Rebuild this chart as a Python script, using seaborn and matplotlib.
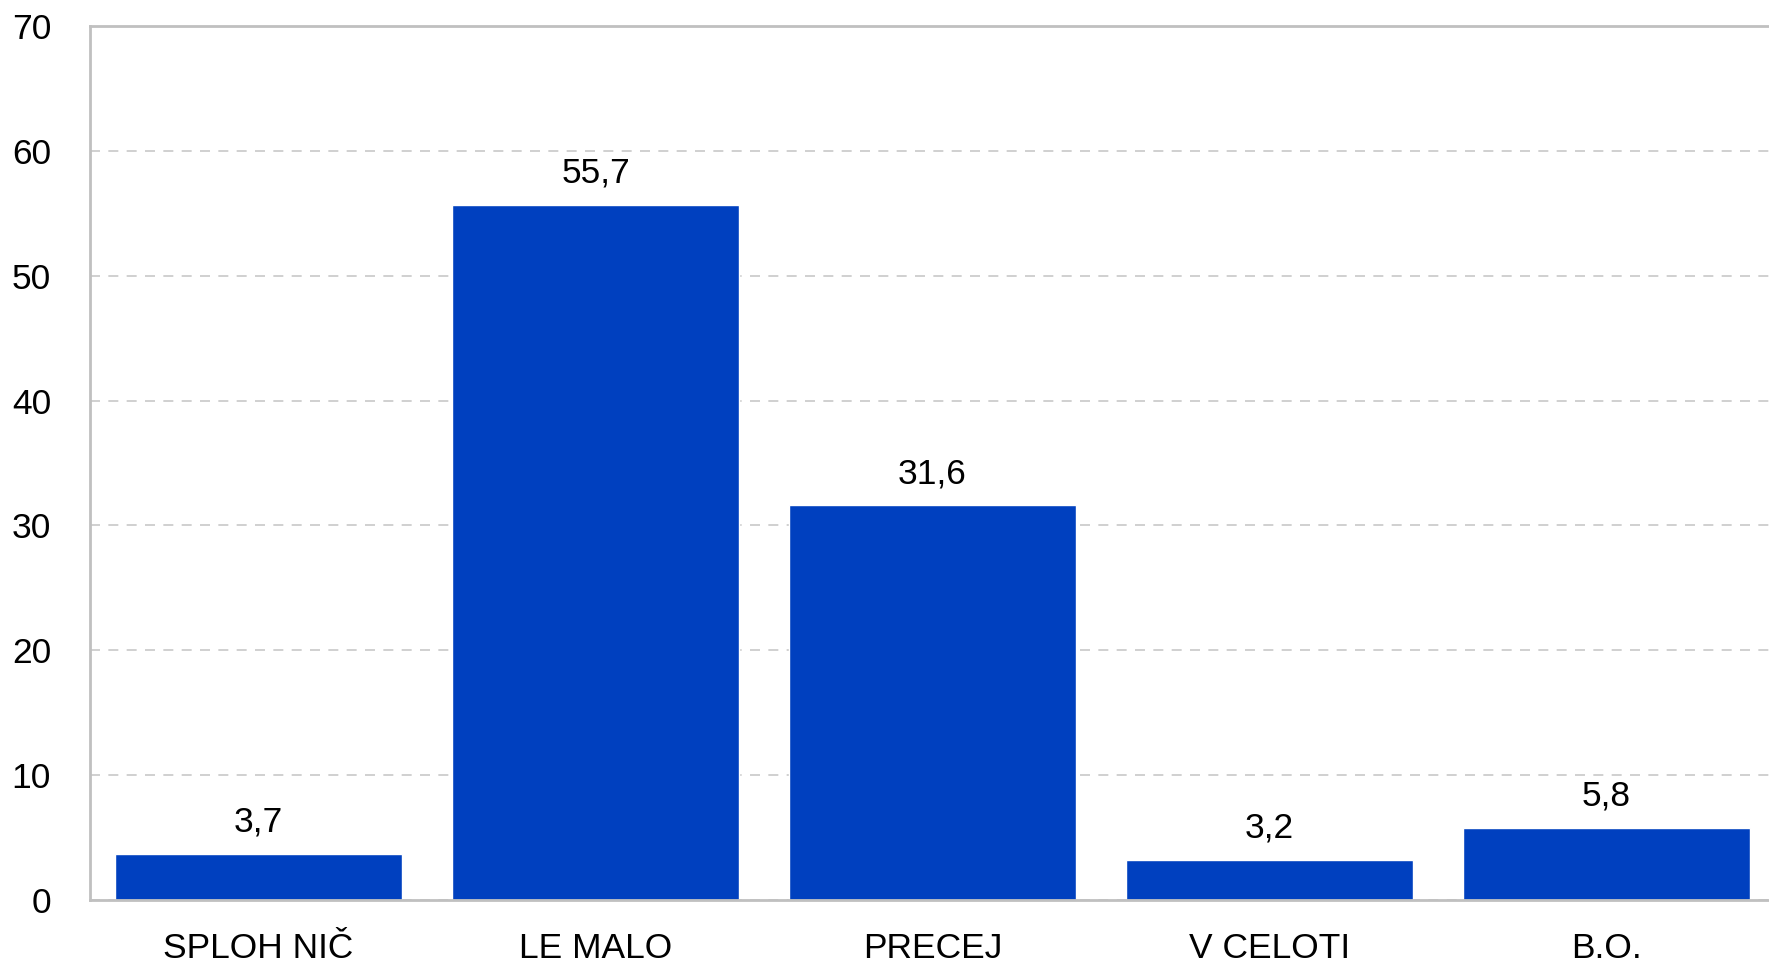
import matplotlib
matplotlib.use("Agg")
import matplotlib.pyplot as plt
import seaborn as sns
import pandas as pd

categories = ["SPLOH NIČ", "LE MALO", "PRECEJ", "V CELOTI", "B.O."]
values = [3.7, 55.7, 31.6, 3.2, 5.8]
yticks = [0, 10, 20, 30, 40, 50, 60, 70]

sns.set_theme(style="white")
plt.rcParams['font.family'] = ['Liberation Sans', 'DejaVu Sans']

df = pd.DataFrame({"cat": categories, "val": values})

fig = plt.figure(figsize=(17.69, 9.65), dpi=100)
ax = fig.add_axes([90/1769, 1-900/965, (1775-90)/1769, (900-26)/965])

sns.barplot(data=df, x="cat", y="val", color="#0040BF", saturation=1, width=0.85, ax=ax)

FS = 25.5
ax.set_ylim(0, 70)
ax.set_xlim(-0.5, 4.5)
ax.set_yticks(yticks)
ax.set_yticklabels([str(t) for t in yticks], fontsize=FS, color="black")
ax.tick_params(axis="x", labelsize=FS, colors="black", pad=23, length=0)
ax.tick_params(axis="y", pad=28, length=0)
ax.set_xlabel("")
ax.set_ylabel("")

ax.yaxis.grid(True, linestyle=(0, (6, 5)), color="#c8c8c8", linewidth=1.2)
ax.set_axisbelow(True)
for s in ["left", "top", "bottom"]:
    ax.spines[s].set_color("#c0c0c0")
    ax.spines[s].set_linewidth(2)
ax.spines["right"].set_visible(False)

for cont in ax.containers:
    ax.bar_label(cont, labels=[f"{v:.1f}".replace(".", ",") for v in values],
                 fontsize=FS, padding=11, color="black")

fig.savefig("out.png", dpi=100)
